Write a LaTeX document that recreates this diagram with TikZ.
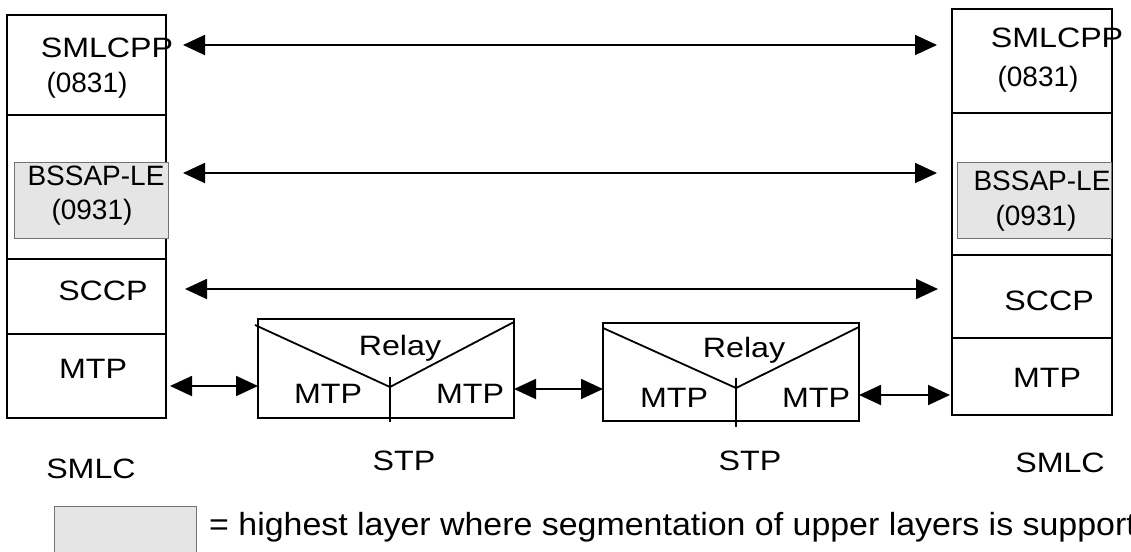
\documentclass[tikz,border=0pt]{standalone}
\usepackage{graphicx}
\usepackage{fontspec}
\setmainfont{Liberation Sans}
\usetikzlibrary{arrows.meta}
\newcommand\wtxt[1]{\scalebox{1.15}[1]{#1}}
\begin{document}
\begin{tikzpicture}[x=1pt,y=-1pt,
  layer/.style={draw,line width=1.8pt,inner sep=0,outer sep=0,anchor=north west},
  shadebox/.style={draw=black!55,fill=gray!20,line width=0.9pt,inner sep=0,outer sep=0,anchor=north west},
  lbl/.style={inner sep=0,anchor=base,font=\fontsize{28}{30}\selectfont},
  leglbl/.style={inner sep=0,anchor=base west,font=\fontsize{32}{36}\selectfont},
  inner/.style={line width=1.8pt},
  arr/.style={line width=1.8pt,{Triangle[length=22pt,width=20pt]}-{Triangle[length=22pt,width=20pt]}}]
\useasboundingbox (0,0) rectangle (1131,551);
% left SMLC
\node[layer,minimum width=159pt,minimum height=100pt] (lpp) at (7,15) {};
\node[layer,minimum width=159pt,minimum height=144pt] (lle) at (7,115) {};
\node[layer,minimum width=159pt,minimum height=75pt] (lsc) at (7,259) {};
\node[layer,minimum width=159pt,minimum height=84pt] (lmt) at (7,334) {};
\node[shadebox,minimum width=154pt,minimum height=76pt] (lsh) at (14,162) {};
% right SMLC
\node[layer,minimum width=160pt,minimum height=104pt] (rpp) at (952,9) {};
\node[layer,minimum width=160pt,minimum height=142pt] (rle) at (952,113) {};
\node[layer,minimum width=160pt,minimum height=83pt] (rsc) at (952,255) {};
\node[layer,minimum width=160pt,minimum height=77pt] (rmt) at (952,338) {};
\node[shadebox,minimum width=154pt,minimum height=76pt] (rsh) at (957,162) {};
% STP boxes
\node[layer,minimum width=256pt,minimum height=99pt] (stpa) at (258,319) {};
\node[layer,minimum width=256pt,minimum height=98pt] (stpb) at (603,323) {};
\coordinate (va1) at (255,325); \coordinate (va2) at (390,387); \coordinate (va3) at (514,322);
\coordinate (da1) at (390,377); \coordinate (da2) at (390,422);
\coordinate (vb1) at (603,328); \coordinate (vb2) at (736,388); \coordinate (vb3) at (859,327);
\coordinate (db1) at (736,378); \coordinate (db2) at (736,427);
\draw[inner] (va1) -- (va2) -- (va3);
\draw[inner] (da1) -- (da2);
\draw[inner] (vb1) -- (vb2) -- (vb3);
\draw[inner] (db1) -- (db2);
% labels
\node[lbl] (t1) at (107,57) {\wtxt{SMLCPP}};
\node[lbl] (t2) at (87,92) {(0831)};
\node[lbl] (t3) at (96,185) {BSSAP-LE};
\node[lbl] (t4) at (92,219) {(0931)};
\node[lbl] (t5) at (103,300) {\wtxt{SCCP}};
\node[lbl] (t6) at (93,378) {\wtxt{MTP}};
\node[lbl] (u1) at (1057,48) {\wtxt{SMLCPP}};
\node[lbl] (u2) at (1038,86) {(0831)};
\node[lbl] (u3) at (1042,190) {BSSAP-LE};
\node[lbl] (u4) at (1036,225) {(0931)};
\node[lbl] (u5) at (1049,310) {\wtxt{SCCP}};
\node[lbl] (u6) at (1047,387) {\wtxt{MTP}};
\node[lbl] (s1) at (400,355) {\wtxt{Relay}};
\node[lbl] (s2) at (328,403) {\wtxt{MTP}};
\node[lbl] (s3) at (470,403) {\wtxt{MTP}};
\node[lbl] (s4) at (744,357) {\wtxt{Relay}};
\node[lbl] (s5) at (674,407) {\wtxt{MTP}};
\node[lbl] (s6) at (816,407) {\wtxt{MTP}};
\node[lbl] (b1) at (91,478) {\wtxt{SMLC}};
\node[lbl] (b2) at (404,470) {\wtxt{STP}};
\node[lbl] (b3) at (750,470) {\wtxt{STP}};
\node[lbl] (b4) at (1060,472) {\wtxt{SMLC}};
% arrows
\coordinate (p1l) at (183,45);  \coordinate (p1r) at (937,45);
\coordinate (p2l) at (183,173); \coordinate (p2r) at (937,173);
\coordinate (p3l) at (185,289); \coordinate (p3r) at (938,289);
\coordinate (m1l) at (170,386); \coordinate (m1r) at (258,386);
\coordinate (m2l) at (514,389); \coordinate (m2r) at (603,389);
\coordinate (m3l) at (859,395); \coordinate (m3r) at (950,395);
\draw[arr] (p1l) -- (p1r);
\draw[arr] (p2l) -- (p2r);
\draw[arr] (p3l) -- (p3r);
\draw[arr] (m1l) -- (m1r);
\draw[arr] (m2l) -- (m2r);
\draw[arr] (m3l) -- (m3r);
% legend
\node[shadebox,minimum width=142pt,minimum height=60pt] (leg) at (54,506) {};
\node[leglbl] (legt) at (209,535) {\scalebox{1.06}[1]{= highest layer where segmentation of upper layers is supported}};
\end{tikzpicture}
\end{document}
